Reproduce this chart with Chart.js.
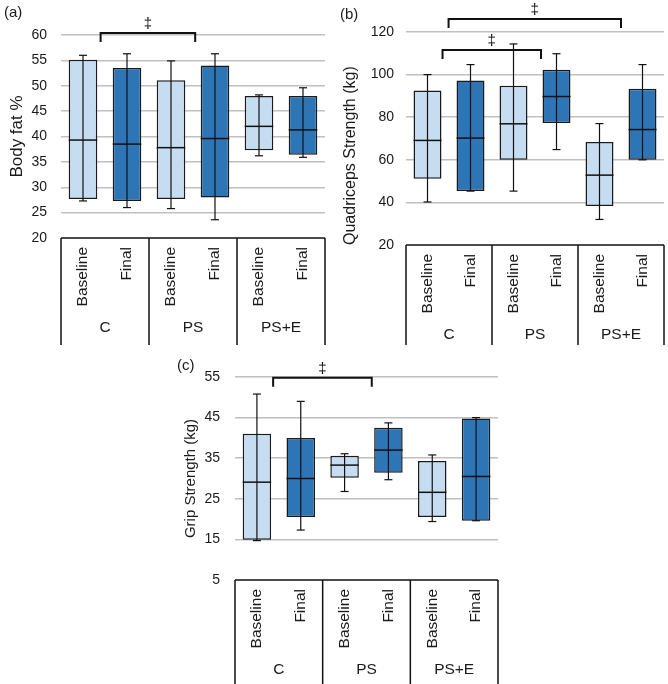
<!DOCTYPE html>
<html>
<head>
<meta charset="utf-8">
<script src="https://cdn.jsdelivr.net/npm/chart.js@4.4.1/dist/chart.umd.min.js"></script>
<style>
  body { margin: 0; background: #fff; width: 668px; height: 684px; position: relative; overflow: hidden; font-family: "Liberation Sans", Arial, sans-serif; }
  canvas { position: absolute; }
  .tag { position: absolute; font-size: 15px; color: #1a1a1a; }
</style>
</head>
<body>
<canvas id="fatChart" width="334" height="345" style="left:0;top:0"></canvas>
<canvas id="quadChart" width="334" height="345" style="left:334px;top:0"></canvas>
<canvas id="gripChart" width="340" height="344" style="left:170px;top:340px"></canvas>
<div class="tag" style="left:4px;top:3px">(a)</div>
<div class="tag" style="left:340px;top:5px">(b)</div>
<div class="tag" style="left:177px;top:356px">(c)</div>
<script>
const categories = ['Baseline', 'Final', 'Baseline', 'Final', 'Baseline', 'Final'];
const groups = ['C', 'PS', 'PS+E'];

// (a) body fat %
const fatMin = [27.3, 26.0, 25.8, 23.6, 36.2, 35.9];
const fatQ1 = [27.7, 27.3, 27.7, 28.0, 37.3, 36.4];
const fatMed = [39.3, 38.5, 37.8, 39.6, 42.0, 41.3];
const fatQ3 = [55.1, 53.5, 51.1, 54.0, 48.0, 48.0];
const fatMax = [56.0, 56.3, 54.9, 56.3, 48.2, 49.6];

// (b) quadriceps strength
const quadMin = [40.2, 45.3, 45.3, 64.8, 32.0, 60.0];
const quadQ1 = [51.1, 45.3, 60.0, 77.3, 38.3, 60.0];
const quadMed = [69.1, 70.2, 76.9, 89.7, 52.8, 74.2];
const quadQ3 = [92.5, 97.2, 94.8, 102.3, 68.4, 93.4];
const quadMax = [100, 104.7, 114.4, 109.8, 77.0, 104.7];

// (c) grip strength
const gripMin = [14.7, 17.3, 26.8, 29.7, 19.4, 19.6];
const gripQ1 = [14.9, 20.5, 30.2, 31.4, 20.5, 19.6];
const gripMed = [29.1, 30.0, 33.3, 37.0, 26.6, 30.5];
const gripQ3 = [41.0, 40.0, 35.6, 42.5, 34.3, 44.8];
const gripMax = [50.8, 49.0, 36.1, 43.7, 35.8, 45.0];

// significance brackets: category index span, top value, end value
const fatBrackets = [{ from: 0.4, to: 2.55, top: 60.4, end: 58.6 }];
const quadBrackets = [
  { from: 0.35, to: 2.64, top: 111.6, end: 107.3 },
  { from: 0.49, to: 4.5, top: 126.1, end: 121.9 }
];
const gripBrackets = [{ from: 0.37, to: 2.62, top: 54.8, end: 52.6 }];

const FONT = '"Liberation Sans", Arial, sans-serif';
Chart.defaults.font.family = FONT;
Chart.defaults.color = '#1a1a1a';

const LIGHT = '#c5dcf1';
const DARK = '#2e75b6';

function line(ctx, x0, y0, x1, y1) {
  ctx.beginPath();
  ctx.moveTo(x0, y0);
  ctx.lineTo(x1, y1);
  ctx.stroke();
}

const boxExtras = {
  id: 'boxExtras',
  afterDatasetsDraw(chart, args, opts) {
    const { ctx } = chart;
    const x = chart.scales.x, y = chart.scales.y;
    const meta = chart.getDatasetMeta(0);
    ctx.save();
    ctx.strokeStyle = '#111';
    meta.data.forEach((bar, i) => {
      const cx = bar.x, w = bar.width;
      const yMin = y.getPixelForValue(opts.min[i]);
      const yMax = y.getPixelForValue(opts.max[i]);
      ctx.lineWidth = 1.2;
      line(ctx, cx, yMin, cx, yMax);
      line(ctx, cx - 4, yMin, cx + 4, yMin);
      line(ctx, cx - 4, yMax, cx + 4, yMax);
      ctx.lineWidth = 1.5;
      const ym = y.getPixelForValue(opts.med[i]);
      line(ctx, cx - w / 2, ym, cx + w / 2, ym);
    });

    // brackets
    ctx.lineWidth = 2;
    ctx.fillStyle = '#111';
    ctx.font = '15px ' + FONT;
    ctx.textAlign = 'center';
    ctx.textBaseline = 'middle';
    opts.brackets.forEach(b => {
      const x0 = x.getPixelForValue(b.from), x1 = x.getPixelForValue(b.to);
      const yt = y.getPixelForValue(b.top), ye = y.getPixelForValue(b.end);
      ctx.beginPath();
      ctx.moveTo(x0, ye);
      ctx.lineTo(x0, yt);
      ctx.lineTo(x1, yt);
      ctx.lineTo(x1, ye);
      ctx.stroke();
      ctx.fillText('\u2021', (x0 + x1) / 2, yt - 9);
    });
    ctx.restore();
  },
  afterDraw(chart) {
    // category box under the plot
    const { ctx, chartArea, height } = chart;
    const x = chart.scales.x;
    const top = chartArea.bottom;
    ctx.save();
    ctx.strokeStyle = '#111';
    ctx.lineWidth = 1.5;
    line(ctx, chartArea.left, top, chartArea.right, top);
    const edges = [chartArea.left, x.getPixelForValue(1.5), x.getPixelForValue(3.5), chartArea.right];
    edges.forEach(e => line(ctx, e, top, e, height));

    ctx.fillStyle = '#1a1a1a';
    ctx.font = '15.5px ' + FONT;
    categories.forEach((c, i) => {
      ctx.save();
      ctx.translate(x.getPixelForValue(i), top + 9);
      ctx.rotate(-Math.PI / 2);
      ctx.textAlign = 'right';
      ctx.textBaseline = 'middle';
      ctx.fillText(c, 0, 0);
      ctx.restore();
    });
    ctx.textAlign = 'center';
    ctx.textBaseline = 'middle';
    groups.forEach((g, k) => {
      ctx.fillText(g, x.getPixelForValue(2 * k + 0.5), top + 90);
    });
    ctx.restore();
  }
};

function makeChart(id, cfg) {
  const ctx = document.getElementById(id).getContext('2d');
  return new Chart(ctx, {
    type: 'bar',
    data: {
      labels: categories,
      datasets: [{
        data: cfg.q1.map((v, i) => [v, cfg.q3[i]]),
        backgroundColor: categories.map((c, i) => (i % 2 === 0 ? LIGHT : DARK)),
        borderColor: '#1a1a1a',
        borderWidth: 1.5,
        borderSkipped: false,
        barPercentage: 0.65,
        categoryPercentage: 1
      }]
    },
    options: {
      responsive: false,
      animation: false,
      layout: { padding: cfg.padding },
      plugins: {
        legend: { display: false },
        tooltip: { enabled: false },
        boxExtras: { min: cfg.min, med: cfg.med, max: cfg.max, brackets: cfg.brackets }
      },
      scales: {
        x: { display: false },
        y: {
          min: cfg.yMin,
          max: cfg.yMax,
          afterFit: scale => { scale.width = cfg.axisWidth; },
          ticks: { stepSize: cfg.step, padding: cfg.tickPad, font: { size: 14 }, color: '#1a1a1a' },
          grid: {
            drawTicks: false,
            lineWidth: 1.5,
            color: c => (c.tick.value === cfg.yMin ? 'rgba(0,0,0,0)' : '#c0c0c0')
          },
          border: { display: false },
          title: {
            display: true, text: cfg.title, align: cfg.titleAlign,
            font: { size: cfg.titleSize }, color: '#1a1a1a',
            padding: { top: cfg.titlePad, bottom: 0 }
          }
        }
      }
    },
    plugins: [boxExtras]
  });
}

makeChart('fatChart', {
  q1: fatQ1, q3: fatQ3, min: fatMin, med: fatMed, max: fatMax, brackets: fatBrackets,
  yMin: 20, yMax: 60, step: 5, title: 'Body fat %', titleSize: 17, titlePad: 7, titleAlign: 'center',
  axisWidth: 61, tickPad: 14, padding: { left: 0, right: 9, top: 35, bottom: 107 }
});

makeChart('quadChart', {
  q1: quadQ1, q3: quadQ3, min: quadMin, med: quadMed, max: quadMax, brackets: quadBrackets,
  yMin: 20, yMax: 120, step: 20, title: 'Quadriceps Strength (kg)', titleSize: 16, titlePad: 7, titleAlign: 'start',
  axisWidth: 72, tickPad: 12, padding: { left: 0, right: 4, top: 32, bottom: 100 }
});

makeChart('gripChart', {
  q1: gripQ1, q3: gripQ3, min: gripMin, med: gripMed, max: gripMax, brackets: gripBrackets,
  yMin: 5, yMax: 55, step: 10, title: 'Grip Strength (kg)', titleSize: 15, titlePad: 12, titleAlign: 'center',
  axisWidth: 65, tickPad: 15, padding: { left: 0, right: 12, top: 37, bottom: 104 }
});
</script>
</body>
</html>
